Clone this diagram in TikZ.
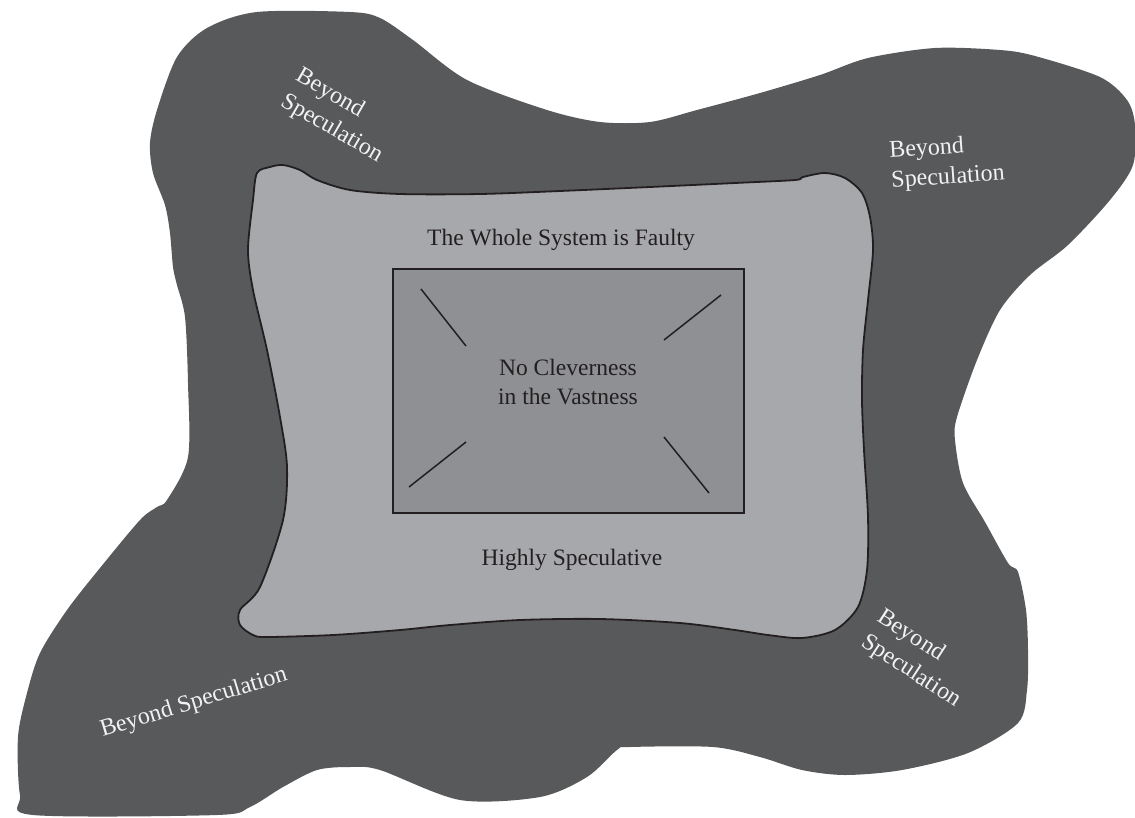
\documentclass[tikz,border=0pt]{standalone}
\usepackage{fontspec}
\setmainfont{Liberation Serif}
\definecolor{outerfill}{HTML}{58595B}
\definecolor{innerfill}{HTML}{A7A8AB}
\definecolor{corefill}{HTML}{8F9094}
\definecolor{textdark}{HTML}{231F20}
\definecolor{textwhite}{HTML}{F2F2F2}
\begin{document}
\begin{tikzpicture}[x=1pt,y=-1pt,
  darktext/.style={text=textdark, font=\fontsize{23.5}{29}\selectfont, inner sep=0pt, align=center},
  whitetext/.style={text=textwhite, font=\fontsize{24}{30}\selectfont, inner sep=0pt, align=left},
  ray/.style={draw=textdark, line width=1.5pt},
]
\useasboundingbox (0,0) rectangle (1135,817);
% outer dark region
\fill[outerfill] plot[smooth cycle, tension=0.5] coordinates {
 (207,28) (257,12) (350,12) (380,18) (413,40) (467,80) (547,110) (600,122) (650,122) (697,110)
 (760,93) (820,75) (868,58) (935,48) (1000,50) (1035,56) (1100,77) (1127,100) (1135,125)
 (1133,165) (1110,200) (1068,245) (1030,275) (1000,310) (977,360) (957,417) (955,440) (963,483)
 (985,522) (1008,563) (1018,572) (1026,610) (1028,650) (1027,690) (1018,723) (968,753) (902,770)
 (845,775) (802,770) (760,757) (713,747) (630,747) (617,750) (587,777) (540,797) (460,800)
 (380,770) (350,767) (317,770) (283,787) (250,807) (217,815) (33,815) (20,795) (18,737) (27,693)
 (40,653) (67,610) (100,568) (140,520) (157,507) (167,500) (188,457) (188,383) (185,317)
 (177,285) (173,267) (170,233) (165,205) (153,173) (150,143) (157,110) (177,57)};
% inner light region
\filldraw[fill=innerfill, draw=textdark, line width=1.8pt] plot[smooth cycle, tension=0.5] coordinates {
 (257,173) (270,167) (283,165) (300,170) (317,180) (350,190) (400,194) (480,194) (560,191)
 (650,187) (735,183) (795,180) (803,177) (825,173) (845,178) (862,193) (870,217) (873,250)
 (868,300) (863,350) (862,400) (864,450) (868,517) (867,570) (858,607) (835,630) (802,638)
 (768,635) (735,630) (680,623) (600,619) (520,620) (450,625) (400,630) (333,635) (267,637)
 (253,635) (240,625) (240,610) (260,587) (283,520) (287,467) (280,417) (267,350) (253,290)
 (248,250) (253,200)};
% core rectangle
\node[rectangle, draw=textdark, line width=1.5pt, fill=corefill, minimum width=351pt,
      minimum height=244pt, inner sep=0pt] (core) at (568.5,391) {};
\draw[ray] (421,289) -- (466,346);
\draw[ray] (721,295) -- (664,340);
\draw[ray] (466,442) -- (409,487);
\draw[ray] (664,437) -- (709,493);
% texts
\node[darktext] (faulty) at (561,240) {The Whole System is Faulty};
\node[darktext] (clever) at (568,382) {No Cleverness\\in the Vastness};
\node[darktext] (highly) at (572,560) {Highly Speculative};
\node[whitetext, rotate=-30] (bsTL) at (339,116) {Beyond\\Speculation};
\node[whitetext, rotate=4] (bsTR) at (947,163) {Beyond\\Speculation};
\node[whitetext, rotate=-33] (bsBR) at (919,659) {Beyond\\Speculation};
\node[whitetext, rotate=17] (bsBL) at (194,703) {Beyond Speculation};
\end{tikzpicture}
\end{document}
